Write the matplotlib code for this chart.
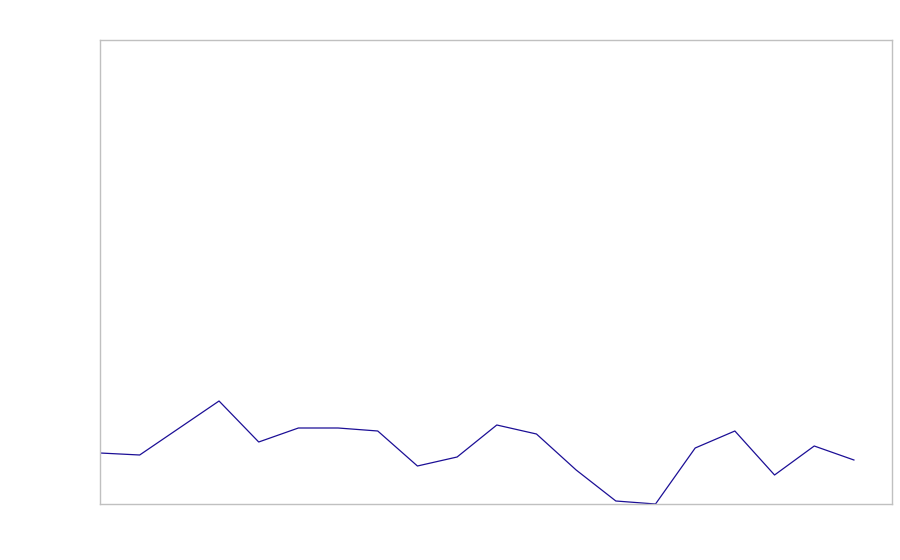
import matplotlib
matplotlib.use("Agg")
import matplotlib.pyplot as plt

x_index = list(range(20))
values = [51, 49, 76, 103, 62, 76, 76, 73, 38, 47, 79, 70, 34, 3, 0, 56, 73, 29, 58, 44]

fig = plt.figure(figsize=(9, 5.6), dpi=100)
ax = fig.add_axes([100/900, 1-504/560, 792/900, 464/560])
ax.plot(x_index, values, color="#1c0f96", linewidth=0.9)
ax.set_xlim(0, 19.96)
ax.set_ylim(0, 464)
ax.set_xticks([])
ax.set_yticks([])
for s in ax.spines.values():
    s.set_color("#c0c0c0")
    s.set_linewidth(1)
fig.savefig("out.png", dpi=100)
